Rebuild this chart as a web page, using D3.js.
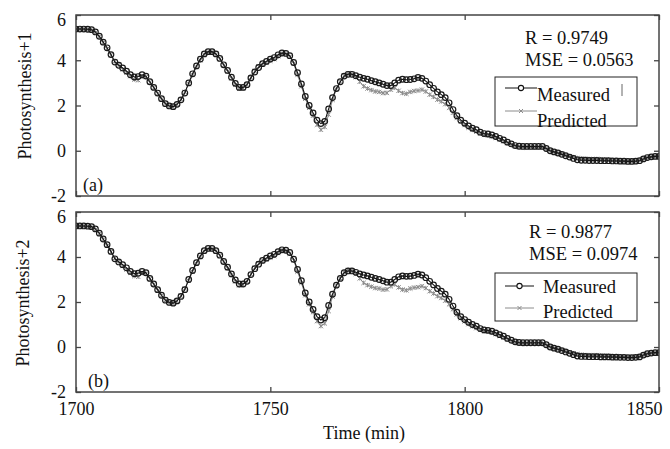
<!DOCTYPE html>
<html>
<head>
  <meta charset="utf-8">
  <style>
    body { margin: 0; background: #fff; }
    svg text { font-family: "Liberation Serif", "Times New Roman", serif; fill: #111; }
    .tick line { stroke: #444; stroke-width: 1.3; }
    .tick text { font-size: 18px; font-family: "Liberation Serif", "Times New Roman", serif; }
  </style>
</head>
<body>
  <svg id="chart" width="670" height="449"></svg>

  <script src="https://d3js.org/d3.v7.min.js"></script>
  <script>
    // data: one value per minute, 1700..1850
    const startTime = 1700;
    const measured = [
      5.38, 5.38, 5.38, 5.37, 5.35, 5.25, 5.06, 4.80, 4.55, 4.25,
      3.92, 3.78, 3.66, 3.52, 3.36, 3.26, 3.28, 3.36, 3.30, 3.05,
      2.80, 2.55, 2.30, 2.08, 1.98, 1.95, 2.05, 2.25, 2.55, 3.00,
      3.40, 3.75, 4.05, 4.28, 4.38, 4.38, 4.28, 4.08, 3.80, 3.55,
      3.25, 2.98, 2.80, 2.80, 2.92, 3.22, 3.48, 3.68, 3.85, 3.95,
      4.05, 4.12, 4.24, 4.32, 4.30, 4.20, 3.90, 3.45, 2.95, 2.40,
      2.00, 1.67, 1.35, 1.20, 1.30, 1.85, 2.35, 2.75, 3.05, 3.30,
      3.38, 3.38, 3.32, 3.25, 3.20, 3.16, 3.10, 3.05, 3.00, 2.94,
      2.88, 2.88, 3.00, 3.12, 3.16, 3.14, 3.15, 3.18, 3.24, 3.20,
      3.08, 2.92, 2.76, 2.60, 2.48, 2.35, 2.12, 1.82, 1.55, 1.35,
      1.22, 1.10, 1.00, 0.93, 0.82, 0.76, 0.74, 0.70, 0.63, 0.55,
      0.48, 0.38, 0.30, 0.23, 0.20, 0.19, 0.19, 0.19, 0.19, 0.19,
      0.19, 0.10, 0.00, -0.05, -0.10, -0.16, -0.22, -0.28, -0.34, -0.40,
      -0.42, -0.42, -0.43, -0.43, -0.43, -0.44, -0.44, -0.44, -0.45, -0.45,
      -0.46, -0.46, -0.47, -0.47, -0.46, -0.44, -0.36, -0.30, -0.27, -0.25,
      -0.25
    ];
    const predicted = [
      5.38, 5.38, 5.37, 5.36, 5.33, 5.22, 5.03, 4.78, 4.50, 4.22,
      3.95, 3.80, 3.60, 3.45, 3.30, 3.15, 3.12, 3.28, 3.26, 3.02,
      2.78, 2.52, 2.28, 2.06, 1.96, 1.94, 2.05, 2.28, 2.60, 2.95,
      3.35, 3.70, 4.00, 4.25, 4.35, 4.36, 4.25, 4.05, 3.78, 3.50,
      3.20, 2.92, 2.74, 2.76, 2.92, 3.24, 3.52, 3.72, 3.82, 3.90,
      3.98, 4.05, 4.18, 4.30, 4.28, 4.15, 3.85, 3.35, 2.85, 2.30,
      1.90, 1.55, 1.15, 0.93, 1.05, 1.60, 2.25, 2.72, 3.05, 3.32,
      3.42, 3.40, 3.25, 3.05, 2.85, 2.75, 2.68, 2.62, 2.60, 2.55,
      2.56, 2.70, 2.78, 2.65, 2.55, 2.52, 2.60, 2.64, 2.66, 2.70,
      2.62, 2.48, 2.38, 2.26, 2.18, 2.06, 1.90, 1.68, 1.45, 1.28,
      1.14, 1.02, 0.92, 0.84, 0.76, 0.70, 0.68, 0.64, 0.58, 0.50,
      0.42, 0.34, 0.26, 0.20, 0.16, 0.15, 0.15, 0.16, 0.15, 0.15,
      0.16, 0.08, 0.00, -0.06, -0.10, -0.14, -0.20, -0.24, -0.28, -0.32,
      -0.34, -0.36, -0.36, -0.38, -0.36, -0.38, -0.40, -0.40, -0.42, -0.42,
      -0.44, -0.44, -0.45, -0.45, -0.44, -0.42, -0.36, -0.30, -0.27, -0.25,
      -0.24
    ];
    const xTicks = [1700, 1750, 1800, 1850];
    const yTicks = [-2, 0, 2, 4, 6];
    const panels = [
      { label: "(a)", yTitle: "Photosynthesis+1", r: "R = 0.9749", mse: "MSE = 0.0563" },
      { label: "(b)", yTitle: "Photosynthesis+2", r: "R = 0.9877", mse: "MSE = 0.0974" }
    ];

    const svg = d3.select("#chart");
    const left = 76, right = 659;

    const x = d3.scaleLinear().domain([1700, 1850]).range([left, right]);

    const frames = [
      { top: 15, bottom: 196, titleX: 31, titleY: 96,
        textX: 525, rY: 44, mseY: 66,
        legend: { x: 495, y: 77, w: 142, h: 49, l1: 88, t1: 101, l2: 111, t2: 127, tx: 537, lineEnd: 537 } },
      { top: 212, bottom: 392, titleX: 29, titleY: 303,
        textX: 529, rY: 238, mseY: 260,
        legend: { x: 495, y: 273, w: 142, h: 48, l1: 286, t1: 293, l2: 308, t2: 318, tx: 543, lineEnd: 534 } }
    ];

    const pts = arr => arr.map((v, i) => ({ t: startTime + i, v }));
    const fmtY = d => d < 0 ? "-" + Math.abs(d) : String(d);

    panels.forEach((p, k) => {
      const f = frames[k];
      const y = d3.scaleLinear().domain([-2, 6]).range([f.bottom, f.top]);
      const g = svg.append("g");

      // axes, ticks pointing inward
      const ax = [
        [d3.axisLeft(y).tickValues(yTicks).tickSize(-5).tickPadding(10).tickFormat(fmtY), `translate(${left},0)`],
        [d3.axisRight(y).tickValues(yTicks).tickSize(-5).tickFormat(""), `translate(${right},0)`],
        [d3.axisTop(x).tickValues(xTicks).tickSize(-5).tickFormat(""), `translate(0,${f.top})`],
        [d3.axisBottom(x).tickValues(xTicks).tickSize(-5).tickPadding(10)
            .tickFormat(k === 1 ? d3.format("d") : ""), `translate(0,${f.bottom})`]
      ];
      ax.forEach(([a, tr], j) => {
        const ag = g.append("g").attr("transform", tr).call(a);
        ag.select(".domain").remove();
        if (j === 0) {
          ag.selectAll(".tick text").filter(d => d === 6).attr("dy", "0.6em");
        }
        if (j === 3) {
          // last label pulled in so it stays inside the page
          ag.selectAll(".tick text").filter(d => d === 1850).attr("text-anchor", "end").attr("dx", 3);
        }
      });

      // clip for the series
      const clipId = "clip" + k;
      g.append("clipPath").attr("id", clipId).append("rect")
        .attr("x", left).attr("y", f.top).attr("width", right - left).attr("height", f.bottom - f.top);

      const line = d3.line().x(d => x(d.t)).y(d => y(d.v));
      const series = g.append("g").attr("clip-path", `url(#${clipId})`);

      // predicted: grey line with small cross markers
      const pData = pts(predicted);
      series.append("path").datum(pData)
        .attr("d", line).attr("fill", "none").attr("stroke", "#8c8c8c").attr("stroke-width", 1);
      series.selectAll(".pm").data(pData).enter().append("path")
        .attr("class", "pm")
        .attr("d", d => { const cx = x(d.t), cy = y(d.v), s = 2.2;
          return `M${cx - s},${cy - s}L${cx + s},${cy + s}M${cx - s},${cy + s}L${cx + s},${cy - s}M${cx},${cy - s}L${cx},${cy + s}`; })
        .attr("stroke", "#8c8c8c").attr("stroke-width", 1);

      // measured: black line with open circles
      const mData = pts(measured);
      series.append("path").datum(mData)
        .attr("d", line).attr("fill", "none").attr("stroke", "#111").attr("stroke-width", 1.1);
      series.selectAll(".mm").data(mData).enter().append("circle")
        .attr("class", "mm")
        .attr("cx", d => x(d.t)).attr("cy", d => y(d.v)).attr("r", 2.8)
        .attr("fill", "none").attr("stroke", "#1a1a1a").attr("stroke-width", 1.2);

      // frame
      g.append("rect")
        .attr("x", left).attr("y", f.top).attr("width", right - left).attr("height", f.bottom - f.top)
        .attr("fill", "none").attr("stroke", "#444").attr("stroke-width", 1.5);

      // y title
      g.append("text")
        .attr("transform", `translate(${f.titleX},${f.titleY}) rotate(-90)`)
        .attr("text-anchor", "middle").style("font-size", "18px").text(p.yTitle);

      // panel label
      g.append("text").attr("x", k === 0 ? 83 : 88).attr("y", f.bottom - 5)
        .style("font-size", "18px").text(p.label);

      // stats
      g.append("text").attr("x", f.textX).attr("y", f.rY).style("font-size", "18.5px").text(p.r);
      g.append("text").attr("x", f.textX).attr("y", f.mseY).style("font-size", "18.5px").text(p.mse);

      // legend
      const L = f.legend;
      g.append("rect").attr("x", L.x).attr("y", L.y).attr("width", L.w).attr("height", L.h)
        .attr("fill", "#fff").attr("stroke", "#222").attr("stroke-width", 1);
      const mx = (L.x + 10 + L.lineEnd) / 2;
      g.append("line").attr("x1", L.x + 10).attr("x2", L.lineEnd).attr("y1", L.l1).attr("y2", L.l1)
        .attr("stroke", "#111").attr("stroke-width", 1);
      g.append("circle").attr("cx", mx).attr("cy", L.l1).attr("r", 2.6)
        .attr("fill", "#fff").attr("stroke", "#111").attr("stroke-width", 1.1);
      g.append("line").attr("x1", L.x + 10).attr("x2", L.lineEnd).attr("y1", L.l2).attr("y2", L.l2)
        .attr("stroke", "#8c8c8c").attr("stroke-width", 1);
      g.append("path").attr("d", `M${mx - 2},${L.l2 - 2}L${mx + 2},${L.l2 + 2}M${mx - 2},${L.l2 + 2}L${mx + 2},${L.l2 - 2}`)
        .attr("stroke", "#8c8c8c");
      g.append("text").attr("x", L.tx).attr("y", L.t1).style("font-size", "18.5px").text("Measured");
      g.append("text").attr("x", L.tx).attr("y", L.t2).style("font-size", "18.5px").text("Predicted");
      if (k === 0) {
        g.append("line").attr("x1", 622).attr("x2", 622).attr("y1", 84).attr("y2", 96)
          .attr("stroke", "#666").attr("stroke-width", 1);
      }
    });

    // x title
    svg.append("text").attr("x", 364).attr("y", 439).attr("text-anchor", "middle")
      .style("font-size", "18px").text("Time (min)");
  </script>
</body>
</html>
